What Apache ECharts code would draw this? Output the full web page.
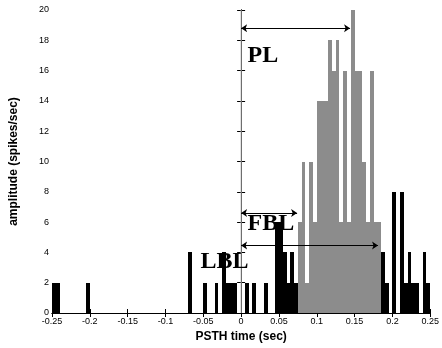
<!DOCTYPE html>
<html><head><meta charset="utf-8">
<script src="https://cdn.jsdelivr.net/npm/echarts@6/dist/echarts.min.js"></script>
<style>html,body{margin:0;padding:0;background:#fff}#c{width:442px;height:348px}</style>
</head><body><div id="c"></div>
<script>
// PSTH: 100 bins of 5 ms from -0.25 s to 0.25 s
const binStart = -0.25;
const binWidth = 0.005;
const counts = [
  2,2,0,0,0,0,0,0,0,2,
  0,0,0,0,0,0,0,0,0,0,
  0,0,0,0,0,0,0,0,0,0,
  0,0,0,0,0,0,4,0,0,0,
  2,0,0,2,0,4,2,2,2,0,
  0,2,0,2,0,0,2,0,0,6,
  6,4,2,4,2,6,10,2,10,6,
  14,14,14,18,16,18,6,16,6,20,
  16,16,10,6,16,6,6,4,2,0,
  8,0,8,2,4,2,2,0,4,2
];
// response window (gray bins)
const responseWindow = [0.075, 0.185];
// axis ticks
const xTicks = [-0.25,-0.2,-0.15,-0.1,-0.05,0,0.05,0.1,0.15,0.2,0.25];
const yTicks = [0,2,4,6,8,10,12,14,16,18,20];
// annotations
const arrowNames = ['PL','FBL','LBL'];
const arrowY = [18.8, 6.6, 4.45];
const arrowEnd = [0.144, 0.074, 0.181];
const labelX = [0.0084, 0.0084, -0.0536];
const labelY = [16.96, 5.87, 3.39];

const bars = [];
counts.forEach((c, i) => {
  if (!c) return;
  const s = +(binStart + i * binWidth).toFixed(4);
  const e = +(s + binWidth).toFixed(4);
  const resp = (s >= responseWindow[0] - 1e-9 && e <= responseWindow[1] + 1e-9) ? 1 : 0;
  bars.push([s, e, c, resp]);
});

const chart = echarts.init(document.getElementById('c'), null, {renderer: 'canvas'});
const tickFont = {fontFamily: 'Liberation Sans, Arial, sans-serif', fontSize: 9, color: '#000'};
const axisCommon = {
  axisLine: {show: true, lineStyle: {color: '#000', width: 1}},
  axisTick: {show: true, inside: true, length: 4, lineStyle: {color: '#000'}},
  splitLine: {show: false}
};
chart.setOption({
  animation: false,
  backgroundColor: '#fff',
  grid: {left: 48, right: 7, top: 10, bottom: 35},
  xAxis: [
    Object.assign({
      type: 'value', min: xTicks[0], max: xTicks[xTicks.length - 1], interval: 0.05,
      position: 'bottom',
      axisLabel: Object.assign({margin: 4, showMinLabel: true, showMaxLabel: true,
        formatter: v => String(+(+v).toFixed(2))}, tickFont),
      name: 'PSTH time (sec)', nameLocation: 'middle', nameGap: 17,
      nameTextStyle: {fontFamily: 'Liberation Sans, Arial, sans-serif', fontWeight: 'bold', fontSize: 12, color: '#000'}
    }, axisCommon),
    Object.assign({
      type: 'value', min: xTicks[0], max: xTicks[xTicks.length - 1], interval: 0.05,
      position: 'top', axisLabel: {show: false}
    }, axisCommon)
  ],
  yAxis: [
    Object.assign({
      type: 'value', min: yTicks[0], max: yTicks[yTicks.length - 1], interval: 2,
      position: 'left',
      axisLabel: Object.assign({margin: 3}, tickFont),
      name: 'amplitude (spikes/sec)', nameLocation: 'middle', nameGap: 32,
      nameTextStyle: {fontFamily: 'Liberation Sans, Arial, sans-serif', fontWeight: 'bold', fontSize: 12, color: '#000'}
    }, axisCommon),
    Object.assign({
      type: 'value', min: yTicks[0], max: yTicks[yTicks.length - 1], interval: 2,
      position: 'right', axisLabel: {show: false}
    }, axisCommon)
  ],
  series: [
    {
      type: 'line', xAxisIndex: 0, yAxisIndex: 0, silent: true, symbol: 'none', z: 1,
      data: [[0, yTicks[0]], [0, yTicks[yTicks.length - 1]]],
      lineStyle: {color: '#b4b4b4', width: 1}
    },
    {
      type: 'custom', xAxisIndex: 0, yAxisIndex: 0, z: 2,
      encode: {x: [0, 1], y: 2},
      data: bars,
      renderItem: function (params, api) {
        const p0 = api.coord([api.value(0), api.value(2)]);
        const p1 = api.coord([api.value(1), 0]);
        const x0 = Math.round(p0[0]), x1 = Math.round(p1[0]);
        const y0 = Math.round(p0[1]), y1 = Math.round(p1[1]);
        return {
          type: 'rect',
          shape: {x: x0, y: y0, width: x1 - x0, height: y1 - y0},
          style: {fill: api.value(3) ? '#8c8c8c' : '#000', stroke: null, lineWidth: 0}
        };
      }
    },
    {
      type: 'lines', coordinateSystem: 'cartesian2d', xAxisIndex: 0, yAxisIndex: 0, z: 3,
      symbol: ['arrow', 'arrow'], symbolSize: 6,
      lineStyle: {color: '#000', width: 1, opacity: 1},
      data: arrowNames.map((n, i) => ({coords: [[0, arrowY[i]], [arrowEnd[i], arrowY[i]]]}))
    },
    {
      type: 'scatter', xAxisIndex: 0, yAxisIndex: 0, z: 4, symbolSize: 0,
      itemStyle: {opacity: 1},
      data: arrowNames.map((n, i) => ({value: [labelX[i], labelY[i]], name: n})),
      label: {
        show: true, position: 'right', distance: 0, formatter: p => p.name, opacity: 1,
        textBorderWidth: 0,
        fontFamily: 'Liberation Serif, Times New Roman, serif', fontWeight: 'bold', fontSize: 24, color: '#000'
      }
    }
  ]
});
</script></body></html>
